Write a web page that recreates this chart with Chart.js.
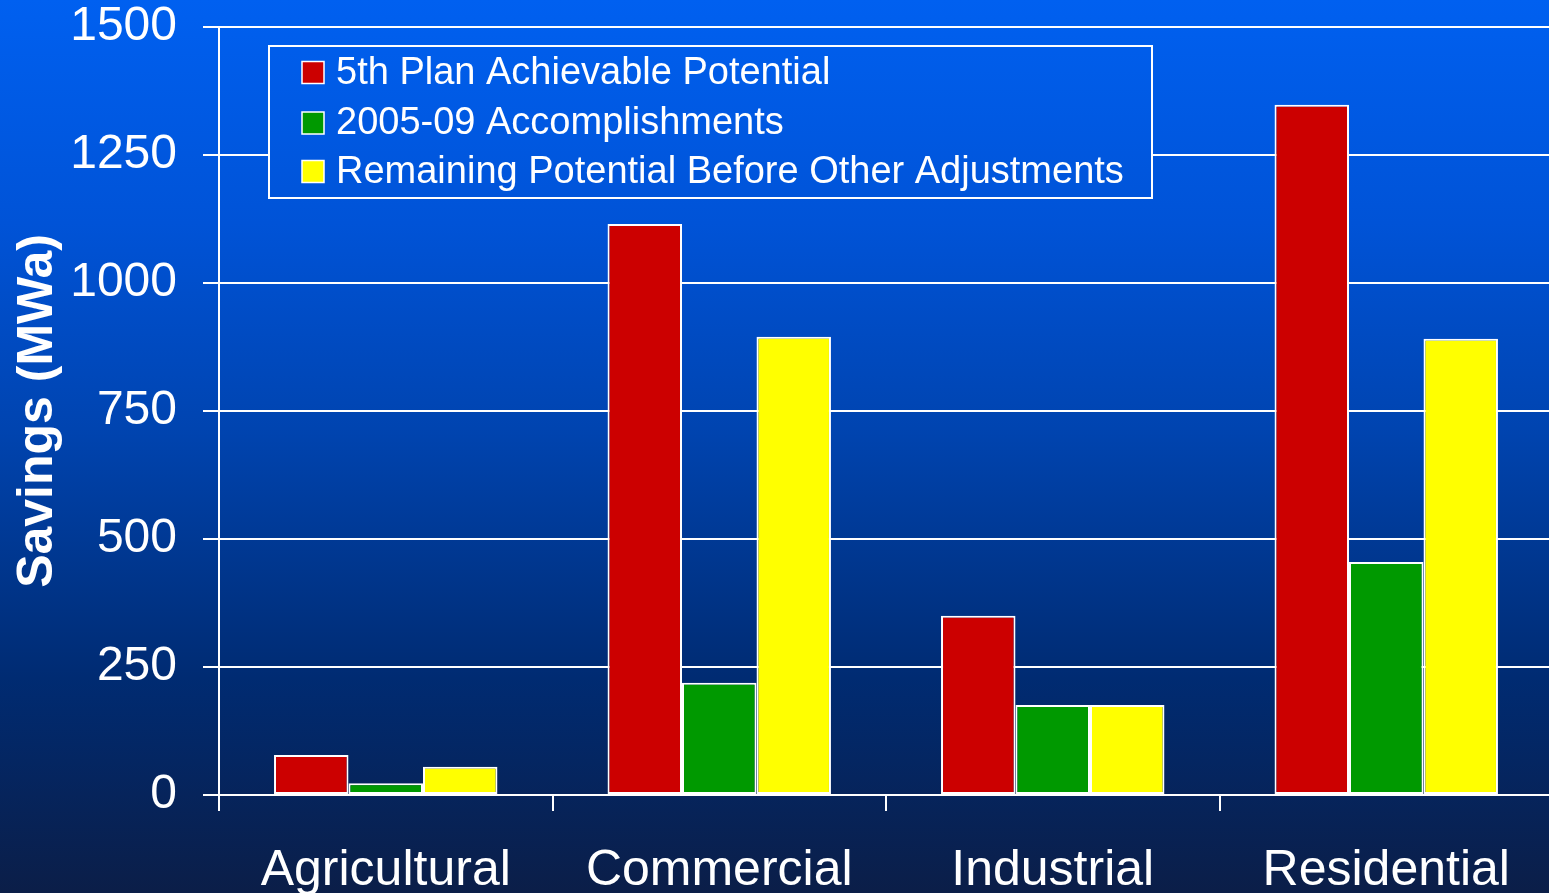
<!DOCTYPE html>
<html>
<head>
<meta charset="utf-8">
<script src="https://cdn.jsdelivr.net/npm/chart.js@4/dist/chart.umd.min.js"></script>
<style>
  html, body { margin: 0; padding: 0; overflow: hidden; background: #0a1d47; }
  canvas { display: block; }
</style>
</head>
<body>
<canvas id="c" width="1560" height="893"></canvas>
<script>
const categories = ['Agricultural', 'Commercial', 'Industrial', 'Residential'];
const seriesNames = ['5th Plan Achievable Potential', '2005-09 Accomplishments', 'Remaining Potential Before Other Adjustments'];
const plan5 = [78, 1115, 350, 1348];
const accomplishments = [23, 219, 176, 455];
const remaining = [55, 895, 176, 891];
const seriesColors = ['#cc0000', '#009900', '#ffff00'];
const yTicks = [0, 250, 500, 750, 1000, 1250, 1500];

const FONT = '"Liberation Sans", Arial, sans-serif';

function bgGradient(chart) {
  const g = chart.ctx.createLinearGradient(0, 0, 0, chart.height);
  g.addColorStop(0, '#0060f0');
  g.addColorStop(0.25, '#0053d7');
  g.addColorStop(0.48, '#0044b0');
  g.addColorStop(0.76, '#002b72');
  g.addColorStop(1, '#0b1e48');
  return g;
}

const bgPlugin = {
  id: 'bg',
  beforeDraw(chart) {
    const ctx = chart.ctx;
    ctx.save();
    ctx.fillStyle = bgGradient(chart);
    ctx.fillRect(0, 0, chart.width, chart.height);
    ctx.restore();
  }
};

const legendPlugin = {
  id: 'boxLegend',
  afterDraw(chart) {
    const ctx = chart.ctx;
    ctx.save();
    ctx.fillStyle = bgGradient(chart);
    ctx.fillRect(269, 46, 883, 152);
    ctx.strokeStyle = '#ffffff';
    ctx.lineWidth = 2;
    ctx.strokeRect(269, 46, 883, 152);
    ctx.font = '38px ' + FONT;
    ctx.textBaseline = 'middle';
    ctx.textAlign = 'left';
    const rows = [72.5, 123, 171.5];
    chart.data.datasets.forEach((ds, i) => {
      const cy = rows[i];
      ctx.fillStyle = ds.backgroundColor;
      ctx.fillRect(302, cy - 11, 22, 22);
      ctx.lineWidth = 1.5;
      ctx.strokeStyle = '#ffffff';
      ctx.strokeRect(302, cy - 11, 22, 22);
      ctx.fillStyle = '#ffffff';
      ctx.fillText(ds.label, 336, cy + 1);
    });
    ctx.restore();
  }
};

const makeDs = (i, data) => ({
  label: seriesNames[i],
  data: data,
  backgroundColor: seriesColors[i],
  borderColor: '#ffffff',
  borderWidth: 2,
  borderSkipped: false,
  categoryPercentage: 0.67,
  barPercentage: 1.0
});

new Chart(document.getElementById('c'), {
  type: 'bar',
  data: {
    labels: categories,
    datasets: [makeDs(0, plan5), makeDs(1, accomplishments), makeDs(2, remaining)]
  },
  options: {
    responsive: false,
    animation: false,
    layout: { padding: { top: 27, right: 7, left: 0, bottom: 0 } },
    plugins: { legend: { display: false }, tooltip: { enabled: false } },
    scales: {
      x: {
        afterFit(s) { s.height = 98; s.paddingLeft = 0; s.paddingRight = 0; },
        grid: { offset: true, drawOnChartArea: false, drawTicks: true, tickLength: 16, color: '#ffffff', lineWidth: 2 },
        border: { color: '#ffffff', width: 2 },
        ticks: { color: '#ffffff', font: { family: FONT, size: 50, lineHeight: 1.2 }, padding: 30, maxRotation: 0, autoSkip: false }
      },
      y: {
        min: 0, max: 1500,
        afterFit(s) { s.width = 219; s.paddingTop = 0; s.paddingBottom = 0; },
        afterBuildTicks(s) { s.ticks = yTicks.map(v => ({ value: v })); },
        grid: { color: '#ffffff', lineWidth: 2, drawTicks: true, tickLength: 16 },
        border: { color: '#ffffff', width: 2 },
        ticks: { color: '#ffffff', font: { family: FONT, size: 48, lineHeight: 1 }, padding: 26, callback: v => String(v) },
        title: {
          display: true,
          text: 'Savings (MWa)',
          color: '#ffffff',
          font: { family: FONT, size: 50, weight: 'bold', lineHeight: 1.2 },
          padding: { top: 8, bottom: 0 }
        }
      }
    }
  },
  plugins: [bgPlugin, legendPlugin]
});
</script>
</body>
</html>
